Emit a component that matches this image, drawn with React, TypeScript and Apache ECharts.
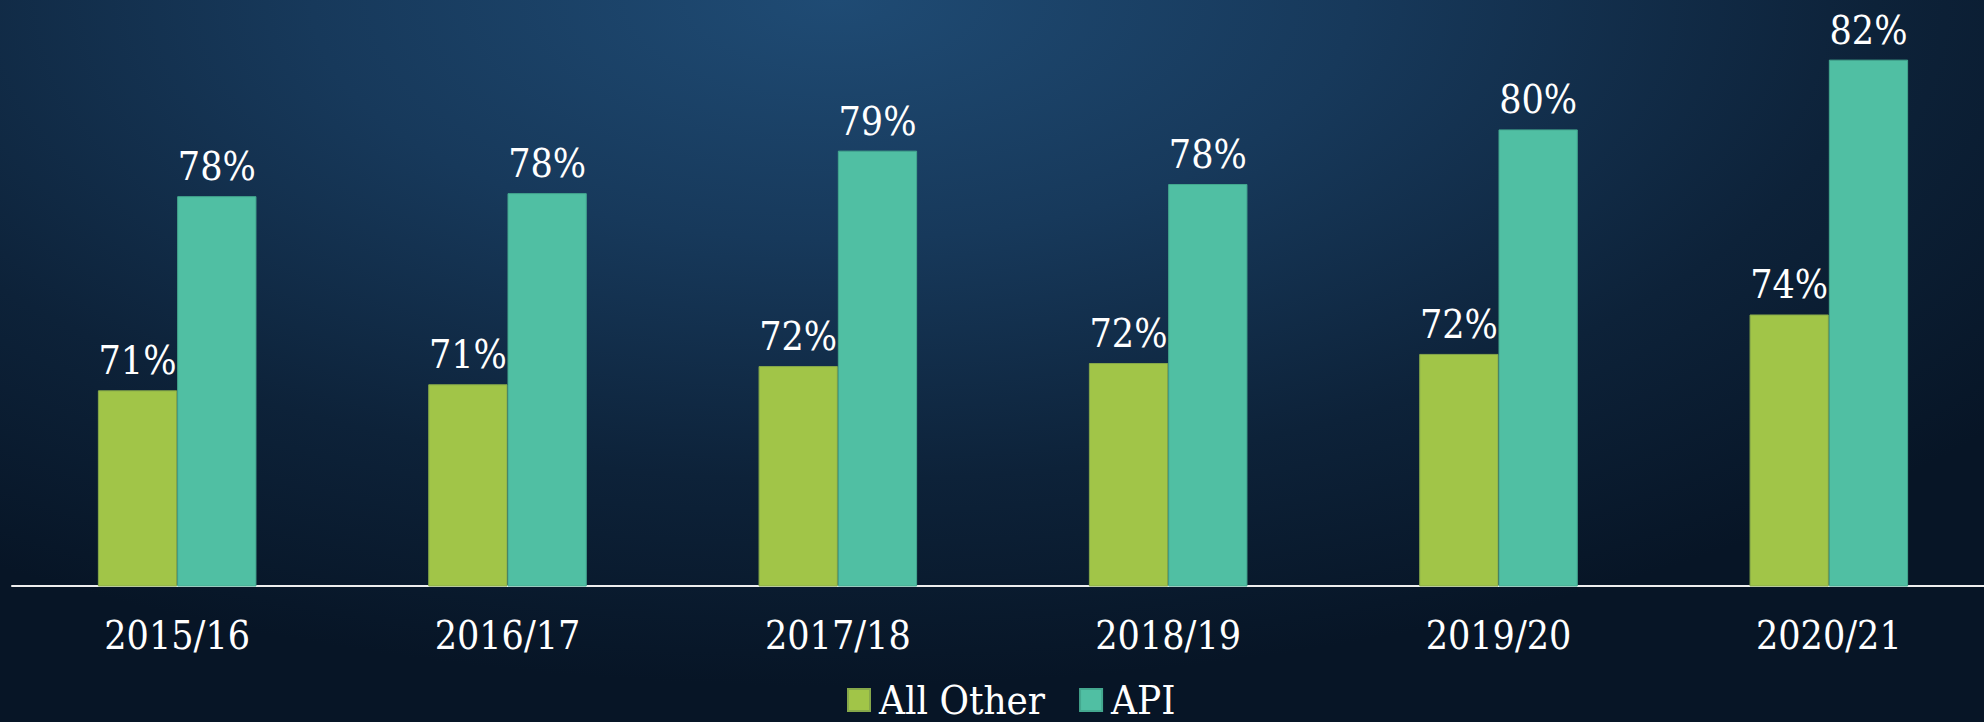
import React, { useEffect, useRef } from "react";
import * as echarts from "echarts";

const categories = ["2015/16", "2016/17", "2017/18", "2018/19", "2019/20", "2020/21"];
const seriesNames = ["All Other", "API"];
const allOther = [71.2, 71.4, 72.0, 72.1, 72.4, 73.7];
const api = [77.6, 77.7, 79.1, 78.0, 79.8, 82.1];
const colors = ["#a1c548", "#50bfa3"];
const borderColors = ["#86a84a", "#44a88f"];

const FONT = "'DejaVu Serif Condensed', 'DejaVu Serif', serif";

export default function App() {
  const ref = useRef<HTMLDivElement>(null);
  useEffect(() => {
    document.body.style.margin = "0";
    const el = ref.current!;
    const chart = echarts.init(el, null, { renderer: "svg" });
    const mk = (name: string, data: number[], i: number) => ({
      name,
      type: "bar",
      data,
      barGap: "0%",
      barCategoryGap: "52%",
      itemStyle: { color: colors[i], borderColor: borderColors[i], borderWidth: 1 },
      label: {
        show: true,
        position: "top",
        distance: 10,
        color: "#ffffff",
        fontFamily: FONT,
        fontSize: 39,
        formatter: (p: any) => Math.round(p.value) + "%",
      },
    });
    chart.setOption({
      animation: false,
      backgroundColor: "transparent",
      textStyle: { fontFamily: FONT },
      grid: { left: 12, right: 0, top: 2, bottom: 136, containLabel: false },
      legend: {
        data: seriesNames,
        top: 680,
        left: 847,
        padding: 0,
        itemWidth: 22,
        itemHeight: 22,
        itemGap: 34,
        icon: "rect",
        textStyle: { color: "#ffffff", fontSize: 40, fontFamily: FONT, padding: [0, 0, 0, 4] },
      },
      xAxis: {
        type: "category",
        data: categories,
        axisLine: { show: true, lineStyle: { color: "#eeeeee", width: 2 } },
        axisTick: { show: false },
        axisLabel: { color: "#ffffff", fontSize: 39, fontFamily: FONT, margin: 30 },
      },
      yAxis: {
        type: "value",
        min: 64.75,
        max: 84,
        show: false,
        splitLine: { show: false },
      },
      series: [mk(seriesNames[0], allOther, 0), mk(seriesNames[1], api, 1)],
    });
    return () => chart.dispose();
  }, []);
  return (
    <div
      style={{
        width: 1984,
        height: 722,
        overflow: "hidden",
        position: "relative",
        background:
          "radial-gradient(ellipse 75% 95% at 42% 0%, #1f4b74 0%, #17395b 35%, #0d2239 70%, #071526 100%)",
      }}
    >
      <div ref={ref} style={{ width: 1994, height: 722, position: "absolute", left: 0, top: 0 }} />
    </div>
  );
}
